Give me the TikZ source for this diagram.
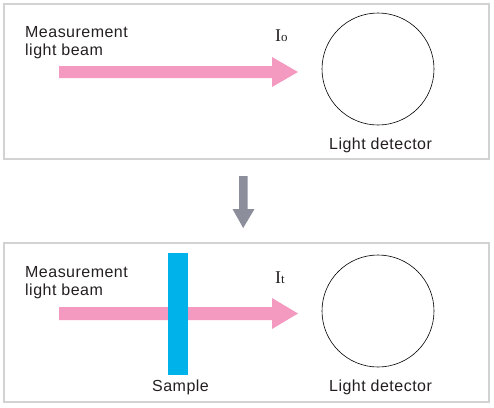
\documentclass[tikz,border=0pt]{standalone}
\usepackage{fontspec}
\setmainfont[LetterSpace=3]{Liberation Sans}
\newfontfamily\serifI{Liberation Serif}
\begin{document}
\begin{tikzpicture}[x=1pt,y=-1pt,
  panel/.style={draw=panelgray,line width=2pt},
  beam/.style={fill=beampink},
  lbl/.style={anchor=base west,inner sep=0pt,text=txt,font=\fontsize{16}{18}\selectfont},
  detector/.style={draw=black,line width=0.6pt},
  samplebar/.style={fill=samplecyan}]
\definecolor{panelgray}{HTML}{D2D2D2}
\definecolor{beampink}{HTML}{F49AC1}
\definecolor{samplecyan}{HTML}{00B2EA}
\definecolor{downgray}{HTML}{8C8E9C}
\definecolor{txt}{HTML}{231F20}
\useasboundingbox (0,0) rectangle (494,407);
% top panel
\draw[panel] (3.5,3.5) rectangle (489,159);
\fill[beam] (59,66) -- (272,66) -- (272,57) -- (298,72) -- (272,87) -- (272,78) -- (59,78) -- cycle;
\draw[detector] (378,69) circle (56);
\node[lbl] (m1) at (25,37) {Measurement};
\node[lbl] (m2) at (25,55) {light beam};
\node[lbl] (io) at (275,41) {\serifI\fontsize{18}{18}\selectfont I\fontsize{13}{13}\selectfont o};
\node[lbl] (ld1) at (329,149) {Light detector};
% down arrow
\fill[downgray] (239,176) -- (247.5,176) -- (247.5,209) -- (254.5,209) -- (243.2,228) -- (232.5,209) -- (239,209) -- cycle;
% bottom panel
\draw[panel] (3.5,243) rectangle (489,402);
\fill[beam] (59,307) -- (272,307) -- (272,298) -- (298,313.5) -- (272,329) -- (272,320) -- (59,320) -- cycle;
\fill[samplebar] (168,253) rectangle (188,375);
\draw[detector] (378,311) circle (56);
\node[lbl] (m3) at (25,277) {Measurement};
\node[lbl] (m4) at (25,295) {light beam};
\node[lbl] (it) at (275,283) {\serifI\fontsize{18}{18}\selectfont I\fontsize{13}{13}\selectfont t};
\node[lbl] (smp) at (152,391) {Sample};
\node[lbl] (ld2) at (329,391) {Light detector};
\end{tikzpicture}
\end{document}
